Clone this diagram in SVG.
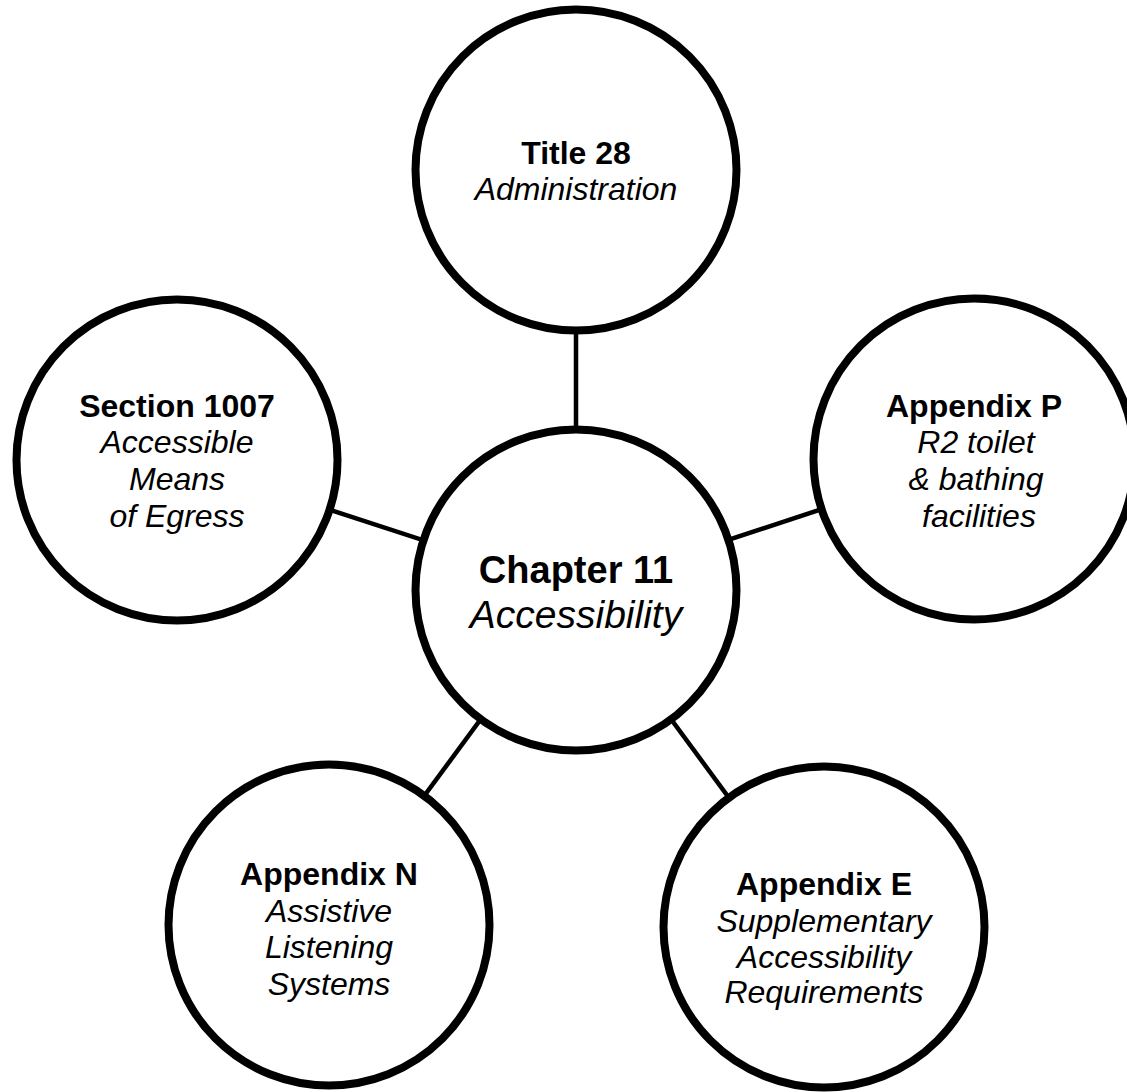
<svg xmlns="http://www.w3.org/2000/svg" width="1127" height="1092" viewBox="0 0 1127 1092">
<style>
  .node circle { fill: #ffffff; stroke: #000000; stroke-width: 8; }
  .conn line { stroke: #000000; stroke-width: 4.5; }
  text { font-family: "Liberation Sans", Arial, sans-serif; fill: #000000; text-anchor: middle; }
  .t { font-weight: bold; font-size: 32px; }
  .s { font-style: italic; font-size: 32px; }
  .ct { font-weight: bold; font-size: 38px; }
  .cs { font-style: italic; font-size: 39px; }
</style>
<rect width="1127" height="1092" fill="#ffffff"/>
<g id="connectors" class="conn">
  <line x1="576" y1="590" x2="576" y2="170"/>
  <line x1="576" y1="590" x2="177" y2="460"/>
  <line x1="576" y1="590" x2="974" y2="459"/>
  <line x1="576" y1="590" x2="329" y2="925"/>
  <line x1="576" y1="590" x2="824" y2="927"/>
</g>
<g id="node-title28" class="node">
  <circle cx="576" cy="170" r="160.5"/>
  <text x="576" y="164" class="t">Title 28</text>
  <text x="576" y="200" class="s">Administration</text>
</g>
<g id="node-section1007" class="node">
  <circle cx="177" cy="460" r="160.5"/>
  <text x="177" y="417" class="t">Section 1007</text>
  <text x="177" y="453" class="s">Accessible</text>
  <text x="177" y="490" class="s">Means</text>
  <text x="177" y="527" class="s">of Egress</text>
</g>
<g id="node-appendixP" class="node">
  <circle cx="974" cy="459" r="160.5"/>
  <text x="974" y="417" class="t">Appendix P</text>
  <text x="976" y="453" class="s">R2 toilet</text>
  <text x="976" y="490" class="s">&amp; bathing</text>
  <text x="979" y="527" class="s">facilities</text>
</g>
<g id="node-chapter11" class="node">
  <circle cx="576" cy="590" r="160.5"/>
  <text x="576" y="583" class="ct">Chapter 11</text>
  <text x="576" y="628" class="cs">Accessibility</text>
</g>
<g id="node-appendixN" class="node">
  <circle cx="329" cy="925" r="160.5"/>
  <text x="329" y="885" class="t">Appendix N</text>
  <text x="329" y="922" class="s">Assistive</text>
  <text x="329" y="958" class="s">Listening</text>
  <text x="329" y="995" class="s">Systems</text>
</g>
<g id="node-appendixE" class="node">
  <circle cx="824" cy="927" r="160.5"/>
  <text x="824" y="895" class="t">Appendix E</text>
  <text x="824" y="932" class="s">Supplementary</text>
  <text x="824" y="968" class="s">Accessibility</text>
  <text x="824" y="1003" class="s">Requirements</text>
</g>
</svg>
